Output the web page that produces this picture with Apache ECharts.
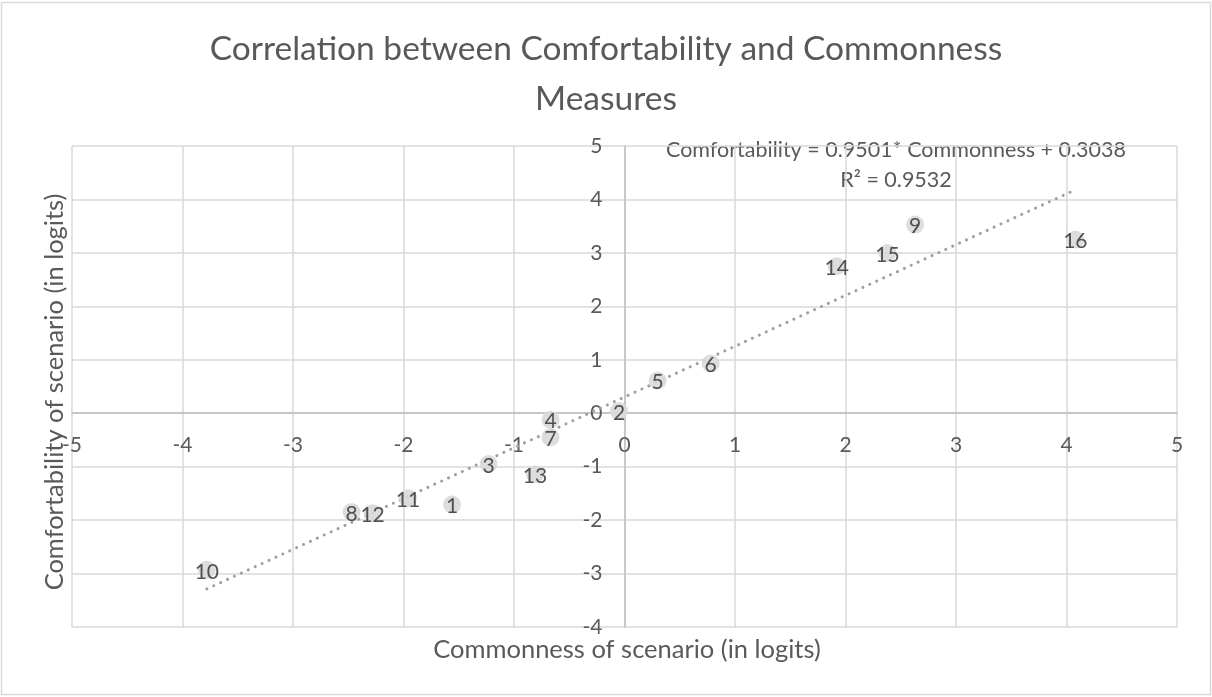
<!DOCTYPE html>
<html>
<head>
<meta charset="utf-8">
<script src="https://cdn.jsdelivr.net/npm/echarts@6/dist/echarts.min.js"></script>
<style>html,body{margin:0;padding:0;background:#fff}#c{width:1212px;height:697px}</style>
</head>
<body>
<div id="c"></div>
<script>
const scenarioIds = ['1','2','3','4','5','6','7','8','9','10','11','12','13','14','15','16'];
const commonness = [-1.56,-0.05,-1.23,-0.67,0.30,0.78,-0.67,-2.47,2.63,-3.78,-1.96,-2.28,-0.81,1.92,2.38,4.08];
const comfortability = [-1.71,0.04,-0.95,-0.12,0.61,0.93,-0.45,-1.85,3.53,-2.93,-1.59,-1.87,-1.14,2.75,3.00,3.25];
const trendSlope = 0.9501;
const trendIntercept = 0.3038;
const rSquared = 0.9532;
const titleText = 'Correlation between Comfortability and Commonness\nMeasures';
const xName = 'Commonness of scenario (in logits)';
const yName = 'Comfortability of scenario (in logits)';
const xRange = [-5, 5];
const yRange = [-4, 5];

const FONT = 'Lato';
const W = 1212, H = 697;
const G = { left: 72, right: 35, top: 146, bottom: 70 };
const gw = W - G.left - G.right, gh = H - G.top - G.bottom;
// move axes so they cross at the origin
const xAxisOffset = -gh * (0 - yRange[0]) / (yRange[1] - yRange[0]);
const yAxisOffset = -gw * (0 - xRange[0]) / (xRange[1] - xRange[0]);

const pts = commonness.map((x, i) => ({ value: [x, comfortability[i]], name: scenarioIds[i] }));
const xMin = Math.min(...commonness), xMax = Math.max(...commonness);
const trend = [[xMin, trendSlope * xMin + trendIntercept], [xMax, trendSlope * xMax + trendIntercept]];

const chart = echarts.init(document.getElementById('c'), null, { renderer: 'canvas' });
chart.setOption({
  animation: false,
  backgroundColor: '#fff',
  textStyle: { fontFamily: FONT },
  title: {
    text: titleText, left: 'center', top: 19,
    textStyle: { fontFamily: FONT, fontSize: 33.5, fontWeight: 'normal', color: '#595959', lineHeight: 50 }
  },
  grid: { left: G.left, right: G.right, top: G.top, bottom: G.bottom, containLabel: false },
  xAxis: {
    type: 'value', min: xRange[0], max: xRange[1], interval: 1, offset: xAxisOffset,
    axisLine: { show: true, onZero: false, lineStyle: { color: '#bfbfbf', width: 1.5 } },
    axisTick: { show: false },
    axisLabel: { color: '#595959', fontSize: 21, fontFamily: FONT, margin: 22 },
    splitLine: { show: true, lineStyle: { color: '#d9d9d9', width: 1.5 } }
  },
  yAxis: {
    type: 'value', min: yRange[0], max: yRange[1], interval: 1, offset: yAxisOffset,
    axisLine: { show: true, onZero: false, lineStyle: { color: '#bfbfbf', width: 1.5 } },
    axisTick: { show: false },
    axisLabel: { color: '#595959', fontSize: 21, fontFamily: FONT, margin: 22 },
    splitLine: { show: true, lineStyle: { color: '#d9d9d9', width: 1.5 } }
  },
  graphic: [
    { type: 'rect', shape: { x: 1.5, y: 2.5, width: 1209, height: 692 }, style: { fill: 'none', stroke: '#d9d9d9', lineWidth: 1.5 }, silent: true },
    { type: 'text', x: 627, y: 650, style: { text: xName, fontFamily: FONT, fontSize: 25.5, fill: '#595959', align: 'center', verticalAlign: 'middle' } },
    { type: 'text', x: 55, y: 392, rotation: Math.PI / 2, style: { text: yName, fontFamily: FONT, fontSize: 25.5, fill: '#595959', align: 'center', verticalAlign: 'middle' } },
    { type: 'text', x: 896, y: 150, style: { text: 'Comfortability = ' + trendSlope.toFixed(4) + '* Commonness + ' + trendIntercept.toFixed(4), fontFamily: FONT, fontSize: 21.5, fill: '#595959', align: 'center', verticalAlign: 'middle' } },
    { type: 'text', x: 896, y: 180, style: { text: 'R² = ' + rSquared.toFixed(4), fontFamily: FONT, fontSize: 21.5, fill: '#595959', align: 'center', verticalAlign: 'middle' } }
  ],
  series: [
    {
      type: 'line', data: trend, symbol: 'none', silent: true, z: 3,
      lineStyle: { color: '#a0a0a0', width: 3, type: [0.1, 7.5], cap: 'round' }
    },
    {
      type: 'scatter', data: pts, symbolSize: 18, z: 4,
      itemStyle: { color: '#d9d9d9', opacity: 0.9 },
      label: {
        show: true, position: 'inside', formatter: p => p.name,
        color: '#404040', fontSize: 21, fontFamily: FONT, offset: [0, 2]
      }
    }
  ]
});
</script>
</body>
</html>
